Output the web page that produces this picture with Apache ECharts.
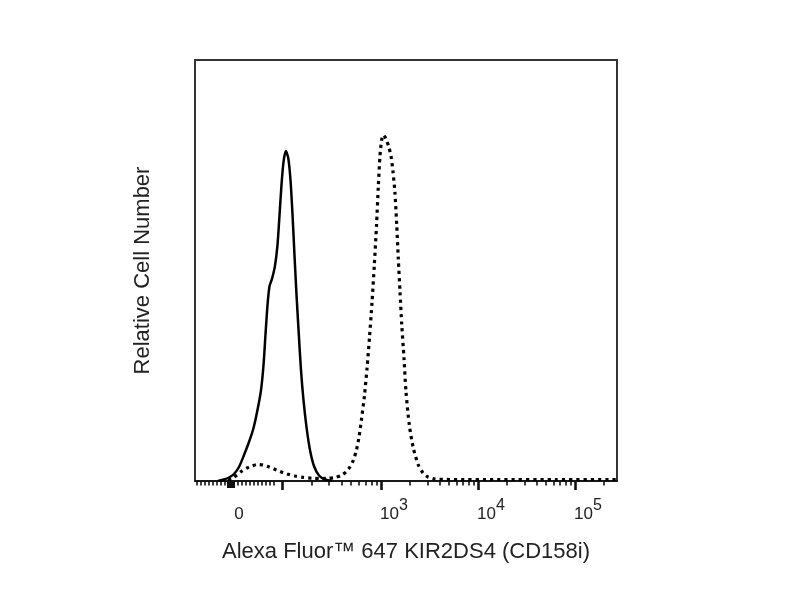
<!DOCTYPE html>
<html>
<head>
<meta charset="utf-8">
<script src="https://cdn.jsdelivr.net/npm/echarts@6.0.0/dist/echarts.min.js"></script>
<style>
  html, body { margin: 0; padding: 0; background: #fff; }
  #chart { width: 800px; height: 600px; }
</style>
</head>
<body>
<div id="chart"></div>
<script>
// ---- Axis display scale (biexponential display units: 10^3 -> 3, 10^4 -> 4, 10^5 -> 5) ----
const X_MIN = 1.0825;
const X_MAX = 5.433;
const Y_MIN = 0;
const Y_MAX = 100;

// Decade boundaries on the display scale (10^2, 10^3, 10^4, 10^5, next)
const DECADES = [1.979, 3, 4, 5, 6];
// Major tick positions: 10^2, 10^3, 10^4, 10^5
const MAJOR_TICKS = [1.979, 3, 4, 5];
// Dense ticks around zero
const ZERO_TICKS = [1.423, 1.438, 1.454, 1.469, 1.485];
// Linear-region minor ticks (negative and 0..100 region)
const LINEAR_MINOR_TICKS = [1.103, 1.144, 1.186, 1.227, 1.268, 1.309, 1.351, 1.392,
                            1.526, 1.567, 1.608, 1.649, 1.691, 1.732, 1.773, 1.814, 1.856, 1.897];
// Tick labels
const LABEL_POS = [1.454, 3, 4, 5];
const LABEL_EXP = [null, 3, 4, 5];

// ---- Series: unstained / isotype (solid) ----
const solidX = [1.320, 1.381, 1.433, 1.485, 1.536, 1.588, 1.639, 1.686, 1.727, 1.763, 1.789, 1.809,
                1.830, 1.851, 1.876, 1.907, 1.933, 1.954, 1.974, 1.995, 2.019, 2.044, 2.067, 2.088,
                2.108, 2.129, 2.153, 2.175, 2.201, 2.232, 2.268, 2.309, 2.361, 2.423, 2.495];
const solidY = [0, 0.36, 0.83, 1.66, 3.33, 6.18, 9.26, 12.6, 16.9, 21.6, 27.6, 34.7,
                41.8, 46.3, 48.0, 51.1, 56.1, 63.2, 70.3, 75.8, 78.4, 76.7, 71.5, 63.2,
                53.7, 44.2, 34.7, 26.4, 19.2, 12.8, 7.36, 3.56, 1.31, 0.36, 0];

// ---- Series: KIR2DS4 stained (dotted) ----
const dottedX = [1.423, 1.474, 1.515, 1.567, 1.619, 1.670, 1.732, 1.784, 1.835, 1.897, 1.959, 2.031,
                 2.113, 2.196, 2.289, 2.371, 2.454, 2.526, 2.588, 2.639, 2.680, 2.716, 2.747, 2.773,
                 2.801, 2.830, 2.856, 2.881, 2.907, 2.931, 2.954, 2.972, 2.990, 3.007, 3.026, 3.052,
                 3.077, 3.103, 3.124, 3.144, 3.162, 3.178, 3.196, 3.214, 3.237, 3.258, 3.292, 3.333,
                 3.385, 3.433, 3.485, 3.557, 3.711, 4.2, 4.8, 5.433];
const dottedY = [0.24, 0.71, 1.43, 2.38, 3.09, 3.56, 3.92, 3.80, 3.44, 2.85, 2.26, 1.66,
                 1.19, 0.88, 0.64, 0.59, 0.64, 0.83, 1.31, 2.14, 3.33, 4.99, 7.36, 10.45,
                 15.0, 20.4, 26.8, 34.0, 42.3, 51.3, 60.8, 69.8, 77.4, 81.0, 82.2, 81.2,
                 79.6, 77.2, 73.4, 68.4, 60.8, 53.0, 44.9, 37.1, 29.2, 21.1, 13.3, 7.84,
                 3.80, 1.90, 0.95, 0.48, 0.36, 0.36, 0.36, 0.36];

// ---- Build log minor ticks from the decade boundaries ----
const logMinor = [];
for (let d = 0; d < DECADES.length - 1; d++) {
  const a = DECADES[d], b = DECADES[d + 1];
  for (let k = 2; k <= 9; k++) {
    const v = a + (b - a) * Math.log10(k);
    if (v <= X_MAX) logMinor.push(v);
  }
}
const MINOR_TICKS = LINEAR_MINOR_TICKS.concat(logMinor);

const zip = (xs, ys) => xs.map((x, i) => [x, ys[i]]);

const TEXT_COLOR = '#222';
const FONT = '"Liberation Sans", Arial, sans-serif';

function baseX(extra) {
  return Object.assign({
    type: 'value', gridIndex: 0, position: 'bottom', offset: 0,
    min: X_MIN, max: X_MAX,
    splitLine: { show: false },
    axisLine: { show: false, onZero: false },
    axisTick: { show: false },
    axisLabel: { show: false }
  }, extra);
}

const option = {
  animation: false,
  backgroundColor: '#fff',
  grid: {
    left: 195, right: 183, top: 60, bottom: 119,
    show: true, borderColor: '#333', borderWidth: 2, backgroundColor: 'transparent'
  },
  xAxis: [
    baseX({
      name: 'Alexa Fluor™ 647 KIR2DS4 (CD158i)',
      nameLocation: 'middle',
      nameGap: 60,
      nameTextStyle: { fontFamily: FONT, fontSize: 22, color: TEXT_COLOR },
      axisLine: { show: true, onZero: false, lineStyle: { color: '#111', width: 1.5 } },
      axisTick: { show: true, inside: false, length: 9, customValues: MAJOR_TICKS,
                  lineStyle: { color: '#111', width: 2.6 } },
      axisLabel: {
        show: true, margin: 25, customValues: LABEL_POS,
        formatter: function (value) {
          let idx = 0, best = Infinity;
          LABEL_POS.forEach((p, i) => { const d = Math.abs(p - value); if (d < best) { best = d; idx = i; } });
          const e = LABEL_EXP[idx];
          return e === null ? '{z|0}' : '{b|10}{s|' + e + '}';
        },
        rich: {
          z: { fontFamily: FONT, fontSize: 17, lineHeight: 17, color: TEXT_COLOR,
               padding: [9, 0, 0, 16], verticalAlign: 'bottom' },
          b: { fontFamily: FONT, fontSize: 17, lineHeight: 17, color: TEXT_COLOR,
               padding: [0, 0, 0, 26], verticalAlign: 'bottom' },
          s: { fontFamily: FONT, fontSize: 16, lineHeight: 17, color: TEXT_COLOR,
               padding: [0, 0, 9, 0], verticalAlign: 'bottom' }
        }
      }
    }),
    baseX({
      axisTick: { show: true, inside: false, length: 4.5, customValues: MINOR_TICKS,
                  lineStyle: { color: '#111', width: 1.6 } }
    }),
    baseX({
      axisTick: { show: true, inside: false, length: 7, customValues: ZERO_TICKS,
                  lineStyle: { color: '#111', width: 2 } }
    })
  ],
  yAxis: {
    type: 'value', min: Y_MIN, max: Y_MAX,
    name: 'Relative Cell Number',
    nameLocation: 'middle',
    nameGap: 41,
    nameTextStyle: { fontFamily: FONT, fontSize: 22, color: TEXT_COLOR },
    axisLine: { show: false },
    axisTick: { show: false },
    axisLabel: { show: false },
    splitLine: { show: false }
  },
  series: [
    {
      type: 'line', xAxisIndex: 0, yAxisIndex: 0,
      data: zip(solidX, solidY),
      showSymbol: false, smooth: 0.25,
      lineStyle: { color: '#000', width: 2.5 },
      z: 3
    },
    {
      type: 'line', xAxisIndex: 0, yAxisIndex: 0,
      data: zip(dottedX, dottedY),
      showSymbol: false, smooth: 0.25,
      lineStyle: { color: '#000', width: 3.2, type: [3.2, 4], cap: 'butt' },
      z: 2
    }
  ]
};

const chart = echarts.init(document.getElementById('chart'), null, { renderer: 'canvas' });
chart.setOption(option);
</script>
</body>
</html>
